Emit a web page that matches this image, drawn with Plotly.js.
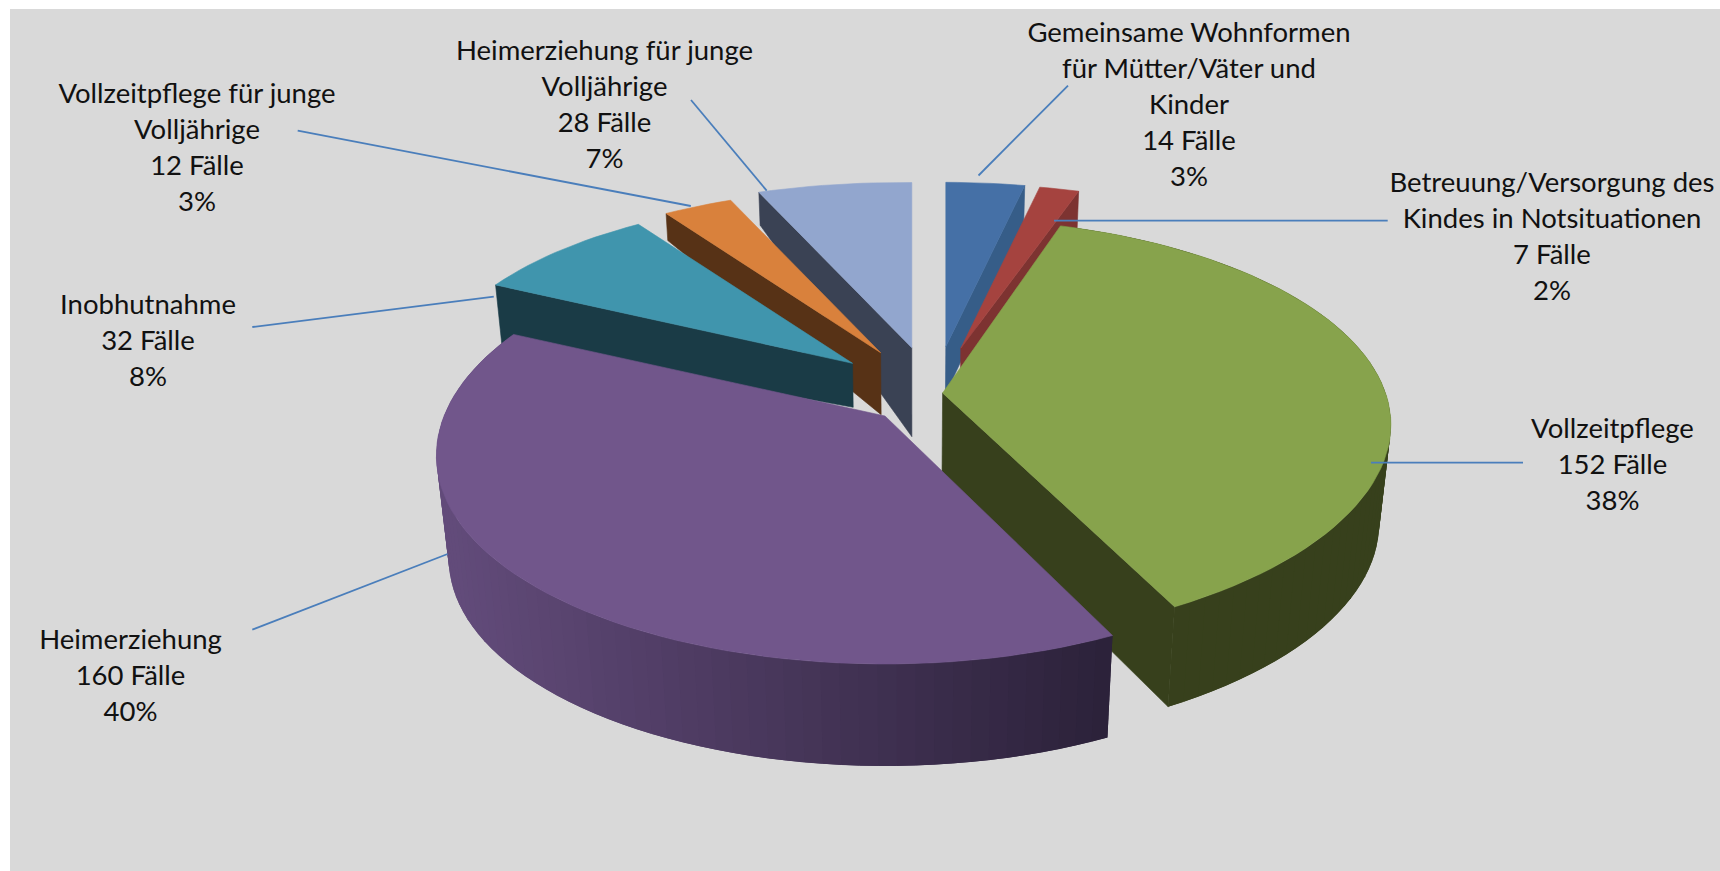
<!DOCTYPE html>
<html><head><meta charset="utf-8">
<script src="https://cdn.plot.ly/plotly-3.0.1.min.js"></script>
<style>html,body{margin:0;padding:0;background:#fff}</style></head>
<body><div id="chart" style="width:1720px;height:871px"></div>
<script>
// ---- data ----
const categories = ["Gemeinsame Wohnformen für Mütter/Väter und Kinder","Betreuung/Versorgung des Kindes in Notsituationen","Vollzeitpflege","Heimerziehung","Inobhutnahme","Vollzeitpflege für junge Volljährige","Heimerziehung für junge Volljährige"];
const cases = [14,7,152,160,32,12,28];
const percents = [3,2,38,40,8,3,7];
const wrappedNames = [
  ["Gemeinsame Wohnformen","für Mütter/Väter und","Kinder"],
  ["Betreuung/Versorgung des","Kindes in Notsituationen"],
  ["Vollzeitpflege"],
  ["Heimerziehung"],
  ["Inobhutnahme"],
  ["Vollzeitpflege für junge","Volljährige"],
  ["Heimerziehung für junge","Volljährige"]
];
// ---- styles and 3D-look layout ----
const topColors  = ["#4570a6","#a5433f","#87a34c","#71568b","#4095ad","#d9813c","#92a6ce"];
const wallColors = ["#365d88","#7d3331","#37401c","#4a3a5e","#1a3b46","#573216","#3a4254"];
const center = [915,370];
const explodeX = [30.8,45.8,27.6,-30,-62.5,-34.4,-3.2];
const explodeY = [-23.3,-21.7,13,46,-6.7,-17.3,-22.3];
const apexDrop = [0,0,10,0,0,0,0];
const boundaryNudge = [0,0,0,1.2,0,0.8,1,0];
const stretchAtStart = [0,0,0,0,-0.015,0,0.02];
const stretchAtEnd   = [0,0,0.02,0.025,0,0,0];
const stretchSpan = 45;
const wallAtApex = [48,48,91,100,44,62,89];
const wallAtRim  = [40,45,100,102,59,27,33];
const cutAtEnd   = [true,true,true,false,false,false,false];
const cutAtStart = [false,false,false,false,true,true,true];
const drawOrder = [0,1,2,6,5,4,3];
const labelX = [1189,1552,1612.5,130.5,148,197,604.5];
const labelY = [35,185,431,642.5,307,96,53.5];
const lineGap = 36;
const leaderX = [[1068,978.5],[1387.7,1054],[1523,1371],[252.3,447.6],[252.3,493.8],[297.7,690.8],[691,766.7]];
const leaderY = [[85.6,175.5],[220.7,220.7],[462.7,462.7],[629.6,554],[327,296.7],[130.7,206],[100,190.7]];
const persp = {a:439, b:197.7, k:0.2028, lowerShrinkPer100:0.025};

// ---- geometry from the values ----
const total = cases.reduce((s,v)=>s+v,0);
let run = 0;
const bounds = [0];
cases.forEach(v=>{run+=v; bounds.push(run/total*360);});
const angles = bounds.map((d,i)=>d+boundaryNudge[i]);

function rimPoint(i,deg){
  const t = deg*Math.PI/180, s=Math.sin(t), c=Math.cos(t), d=1+persp.k*c;
  const fromStart=Math.max(0,1-(deg-angles[i])/stretchSpan), fromEnd=Math.max(0,1-(angles[i+1]-deg)/stretchSpan);
  const r=1+stretchAtStart[i]*fromStart*fromStart+stretchAtEnd[i]*fromEnd*fromEnd;
  return [center[0]+explodeX[i]+r*persp.a*s/d, center[1]+explodeY[i]-r*persp.b*c/d];
}
function lower(p,h){ return [center[0]+(p[0]-center[0])*(1-persp.lowerShrinkPer100*h/100), p[1]+h]; }
function arc(i,a0,a1,step){
  const out=[], n=Math.max(2,Math.ceil((a1-a0)/step));
  for(let j=0;j<=n;j++) out.push(rimPoint(i,a0+(a1-a0)*j/n));
  return out;
}
function poly(pts,color,w){
  return {type:"scatter",mode:"lines",x:pts.map(p=>p[0]).concat(pts[0][0]),y:pts.map(p=>p[1]).concat(pts[0][1]),
    fill:"toself",fillcolor:color,line:{color:color,width:w===undefined?0.6:w},hoverinfo:"skip",showlegend:false};
}
function mix(c1,c2,t){
  const h=(c,o)=>parseInt(c.substr(o,2),16);
  const v=[1,3,5].map(o=>Math.round(h(c1,o)+(h(c2,o)-h(c1,o))*t));
  return "rgb("+v.join(",")+")";
}
const purpleLeft="#624b7a", purpleRight="#2b2139";
const traces=[];
drawOrder.forEach(i=>{
  const a0=angles[i], a1=angles[i+1];
  const apex=[center[0]+explodeX[i],center[1]+explodeY[i]+apexDrop[i]];
  const apexLow=lower(apex,wallAtApex[i]);
  if(cutAtEnd[i]){
    const e=rimPoint(i,a1);
    traces.push(poly([apex,e,lower(e,wallAtRim[i]),apexLow],wallColors[i]));
  }
  if(cutAtStart[i]){
    const e=rimPoint(i,a0);
    traces.push(poly([apex,e,lower(e,wallAtRim[i]),apexLow],wallColors[i]));
  }
  const rim=arc(i,a0,a1,2);
  if(i===3 || i===2){
    const H=wallAtRim[i];
    // painted along the rim, each strip overlapping the next so no seams show
    const idx=rim.map((_,j)=>j);
    if(i===3) idx.reverse();
    for(let n=0;n<idx.length-1;n++){
      const p=rim[idx[n]], q=rim[idx[Math.min(n+2,idx.length-1)]];
      const color = i===3 ? mix(purpleLeft,purpleRight,Math.min(1,Math.max(0,(p[0]-448)/(1108-448)))) : wallColors[i];
      traces.push(poly([p,q,lower(q,H),lower(p,H)],color,0));
    }
  }
  traces.push(poly([apex].concat(rim),topColors[i]));
});
// leader lines
leaderX.forEach((xs,i)=>traces.push({type:"scatter",mode:"lines",x:xs,y:leaderY[i],
  line:{color:"#4a7ebb",width:1.8},hoverinfo:"skip",showlegend:false}));
// labels
const tx=[],ty=[],tt=[];
categories.forEach((c,i)=>{
  const lines=wrappedNames[i].concat([cases[i]+" Fälle",percents[i]+"%"]);
  lines.forEach((l,j)=>{tx.push(labelX[i]);ty.push(labelY[i]+j*lineGap);tt.push(l);});
});
traces.push({type:"scatter",mode:"text",x:tx,y:ty,text:tt,textposition:"middle center",
  textfont:{family:"Lato, 'Open Sans', sans-serif",size:27.5,color:"#111111"},hoverinfo:"skip",showlegend:false,cliponaxis:false});

const layout={width:1720,height:871,margin:{l:0,r:0,t:0,b:0},paper_bgcolor:"#ffffff",plot_bgcolor:"#ffffff",showlegend:false,
  xaxis:{range:[0,1720],visible:false,fixedrange:true},
  yaxis:{range:[871,0],visible:false,fixedrange:true},
  shapes:[{type:"rect",xref:"x",yref:"y",x0:10,x1:1720,y0:9,y1:871,fillcolor:"#d9d9d9",line:{width:0},layer:"below"}]};
Plotly.newPlot("chart",traces,layout,{displayModeBar:false,staticPlot:true});
</script></body></html>
